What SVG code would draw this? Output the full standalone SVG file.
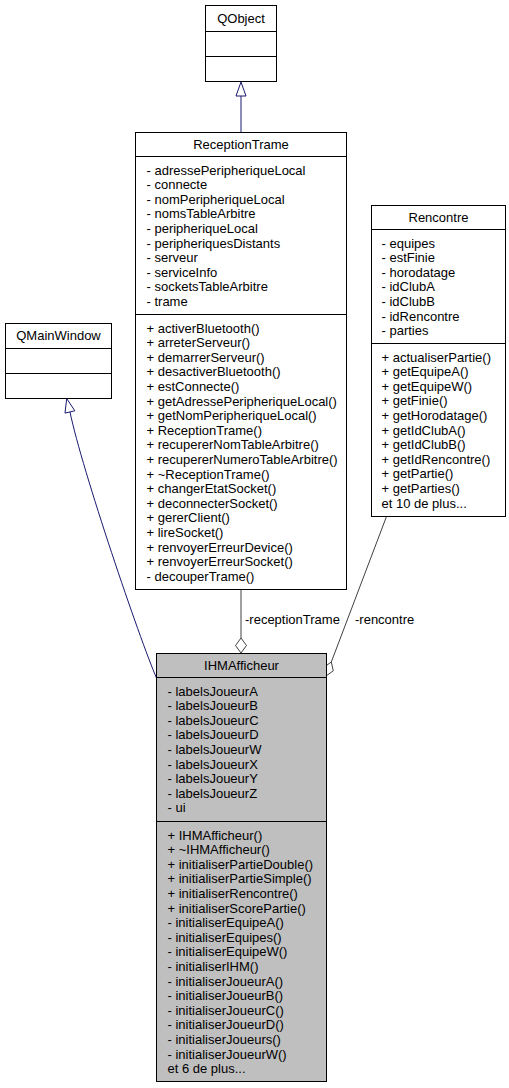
<svg xmlns="http://www.w3.org/2000/svg" width="509" height="1088" viewBox="0 0 509 1088">
<style>
text{font-family:"Liberation Sans",Arial,Helvetica,sans-serif;font-size:13px;fill:#000}
.box{fill:#fff;stroke:#000;stroke-width:1}
.cur{fill:#bfbfbf;stroke:#000;stroke-width:1}
.sep{stroke:#000;stroke-width:1}
.inh{fill:none;stroke:#191970;stroke-width:1}
.inhHead{fill:#fff;stroke:#191970;stroke-width:1}
.use{fill:none;stroke:#404040;stroke-width:1}
.useHead{fill:#fff;stroke:#404040;stroke-width:1}
.c{text-anchor:middle}
</style>
<rect width="509" height="1088" fill="#fff"/>
<g id="connectors">
  <line class="inh" x1="241" y1="132.5" x2="241" y2="96"/>
  <polygon class="inhHead" points="241,82 246,96 236,96"/>
  <path class="inh" d="M156.5,678 C140,640 82,470 70,412"/>
  <polygon class="inhHead" points="66.7,398.5 74.8,410.8 65,413.1"/>
  <line class="use" x1="241" y1="589.5" x2="241" y2="638"/>
  <polygon class="useHead" points="241,638 246.5,645.5 241,653 235.5,645.5"/>
  <text x="245" y="624">-receptionTrame</text>
  <line class="use" x1="386.5" y1="516.5" x2="331.3" y2="662"/>
  <polygon class="useHead" points="331.3,662 333.3,670.8 326,676 324,667.2"/>
  <text x="355" y="624">-rencontre</text>
</g>
<g id="QObject">
  <rect class="box" x="205.5" y="5.5" width="71" height="76"/>
  <line class="sep" x1="205.5" y1="31.5" x2="276.5" y2="31.5"/>
  <line class="sep" x1="205.5" y1="56.5" x2="276.5" y2="56.5"/>
  <text class="c" x="241" y="23">QObject</text>
</g>
<g id="QMainWindow">
  <rect class="box" x="5.5" y="323.5" width="106" height="75"/>
  <line class="sep" x1="5.5" y1="348.5" x2="111.5" y2="348.5"/>
  <line class="sep" x1="5.5" y1="373.5" x2="111.5" y2="373.5"/>
  <text class="c" x="58.5" y="340">QMainWindow</text>
</g>
<g id="ReceptionTrame">
  <rect class="box" x="135.5" y="132.5" width="211" height="457"/>
  <line class="sep" x1="135.5" y1="156.5" x2="346.5" y2="156.5"/>
  <line class="sep" x1="135.5" y1="314.5" x2="346.5" y2="314.5"/>
  <text class="c" x="241" y="149">ReceptionTrame</text>
  <text x="146.5" y="174.5">
    <tspan x="146.5">- adressePeripheriqueLocal</tspan>
    <tspan x="146.5" dy="14.6">- connecte</tspan>
    <tspan x="146.5" dy="14.6">- nomPeripheriqueLocal</tspan>
    <tspan x="146.5" dy="14.6">- nomsTableArbitre</tspan>
    <tspan x="146.5" dy="14.6">- peripheriqueLocal</tspan>
    <tspan x="146.5" dy="14.6">- peripheriquesDistants</tspan>
    <tspan x="146.5" dy="14.6">- serveur</tspan>
    <tspan x="146.5" dy="14.6">- serviceInfo</tspan>
    <tspan x="146.5" dy="14.6">- socketsTableArbitre</tspan>
    <tspan x="146.5" dy="14.6">- trame</tspan>
  </text>
  <text x="146.5" y="332.5">
    <tspan x="146.5">+ activerBluetooth()</tspan>
    <tspan x="146.5" dy="14.6">+ arreterServeur()</tspan>
    <tspan x="146.5" dy="14.6">+ demarrerServeur()</tspan>
    <tspan x="146.5" dy="14.6">+ desactiverBluetooth()</tspan>
    <tspan x="146.5" dy="14.6">+ estConnecte()</tspan>
    <tspan x="146.5" dy="14.6">+ getAdressePeripheriqueLocal()</tspan>
    <tspan x="146.5" dy="14.6">+ getNomPeripheriqueLocal()</tspan>
    <tspan x="146.5" dy="14.6">+ ReceptionTrame()</tspan>
    <tspan x="146.5" dy="14.6">+ recupererNomTableArbitre()</tspan>
    <tspan x="146.5" dy="14.6">+ recupererNumeroTableArbitre()</tspan>
    <tspan x="146.5" dy="14.6">+ ~ReceptionTrame()</tspan>
    <tspan x="146.5" dy="14.6">+ changerEtatSocket()</tspan>
    <tspan x="146.5" dy="14.6">+ deconnecterSocket()</tspan>
    <tspan x="146.5" dy="14.6">+ gererClient()</tspan>
    <tspan x="146.5" dy="14.6">+ lireSocket()</tspan>
    <tspan x="146.5" dy="14.6">+ renvoyerErreurDevice()</tspan>
    <tspan x="146.5" dy="14.6">+ renvoyerErreurSocket()</tspan>
    <tspan x="146.5" dy="14.6">- decouperTrame()</tspan>
  </text>
</g>
<g id="Rencontre">
  <rect class="box" x="371.5" y="205.5" width="134" height="311"/>
  <line class="sep" x1="371.5" y1="229.5" x2="505.5" y2="229.5"/>
  <line class="sep" x1="371.5" y1="343.5" x2="505.5" y2="343.5"/>
  <text class="c" x="438.5" y="222">Rencontre</text>
  <text x="381.5" y="247.5">
    <tspan x="381.5">- equipes</tspan>
    <tspan x="381.5" dy="14.6">- estFinie</tspan>
    <tspan x="381.5" dy="14.6">- horodatage</tspan>
    <tspan x="381.5" dy="14.6">- idClubA</tspan>
    <tspan x="381.5" dy="14.6">- idClubB</tspan>
    <tspan x="381.5" dy="14.6">- idRencontre</tspan>
    <tspan x="381.5" dy="14.6">- parties</tspan>
  </text>
  <text x="381.5" y="361.5">
    <tspan x="381.5">+ actualiserPartie()</tspan>
    <tspan x="381.5" dy="14.6">+ getEquipeA()</tspan>
    <tspan x="381.5" dy="14.6">+ getEquipeW()</tspan>
    <tspan x="381.5" dy="14.6">+ getFinie()</tspan>
    <tspan x="381.5" dy="14.6">+ getHorodatage()</tspan>
    <tspan x="381.5" dy="14.6">+ getIdClubA()</tspan>
    <tspan x="381.5" dy="14.6">+ getIdClubB()</tspan>
    <tspan x="381.5" dy="14.6">+ getIdRencontre()</tspan>
    <tspan x="381.5" dy="14.6">+ getPartie()</tspan>
    <tspan x="381.5" dy="14.6">+ getParties()</tspan>
    <tspan x="381.5" dy="14.6">et 10 de plus...</tspan>
  </text>
</g>
<g id="IHMAfficheur">
  <rect class="cur" x="156.5" y="653.5" width="170" height="428"/>
  <line class="sep" x1="156.5" y1="677.5" x2="326.5" y2="677.5"/>
  <line class="sep" x1="156.5" y1="821.5" x2="326.5" y2="821.5"/>
  <text class="c" x="241.5" y="670">IHMAfficheur</text>
  <text x="167.5" y="695.5">
    <tspan x="167.5">- labelsJoueurA</tspan>
    <tspan x="167.5" dy="14.6">- labelsJoueurB</tspan>
    <tspan x="167.5" dy="14.6">- labelsJoueurC</tspan>
    <tspan x="167.5" dy="14.6">- labelsJoueurD</tspan>
    <tspan x="167.5" dy="14.6">- labelsJoueurW</tspan>
    <tspan x="167.5" dy="14.6">- labelsJoueurX</tspan>
    <tspan x="167.5" dy="14.6">- labelsJoueurY</tspan>
    <tspan x="167.5" dy="14.6">- labelsJoueurZ</tspan>
    <tspan x="167.5" dy="14.6">- ui</tspan>
  </text>
  <text x="167.5" y="839.5">
    <tspan x="167.5">+ IHMAfficheur()</tspan>
    <tspan x="167.5" dy="14.6">+ ~IHMAfficheur()</tspan>
    <tspan x="167.5" dy="14.6">+ initialiserPartieDouble()</tspan>
    <tspan x="167.5" dy="14.6">+ initialiserPartieSimple()</tspan>
    <tspan x="167.5" dy="14.6">+ initialiserRencontre()</tspan>
    <tspan x="167.5" dy="14.6">+ initialiserScorePartie()</tspan>
    <tspan x="167.5" dy="14.6">- initialiserEquipeA()</tspan>
    <tspan x="167.5" dy="14.6">- initialiserEquipes()</tspan>
    <tspan x="167.5" dy="14.6">- initialiserEquipeW()</tspan>
    <tspan x="167.5" dy="14.6">- initialiserIHM()</tspan>
    <tspan x="167.5" dy="14.6">- initialiserJoueurA()</tspan>
    <tspan x="167.5" dy="14.6">- initialiserJoueurB()</tspan>
    <tspan x="167.5" dy="14.6">- initialiserJoueurC()</tspan>
    <tspan x="167.5" dy="14.6">- initialiserJoueurD()</tspan>
    <tspan x="167.5" dy="14.6">- initialiserJoueurs()</tspan>
    <tspan x="167.5" dy="14.6">- initialiserJoueurW()</tspan>
    <tspan x="167.5" dy="14.6">et 6 de plus...</tspan>
  </text>
</g>
</svg>
